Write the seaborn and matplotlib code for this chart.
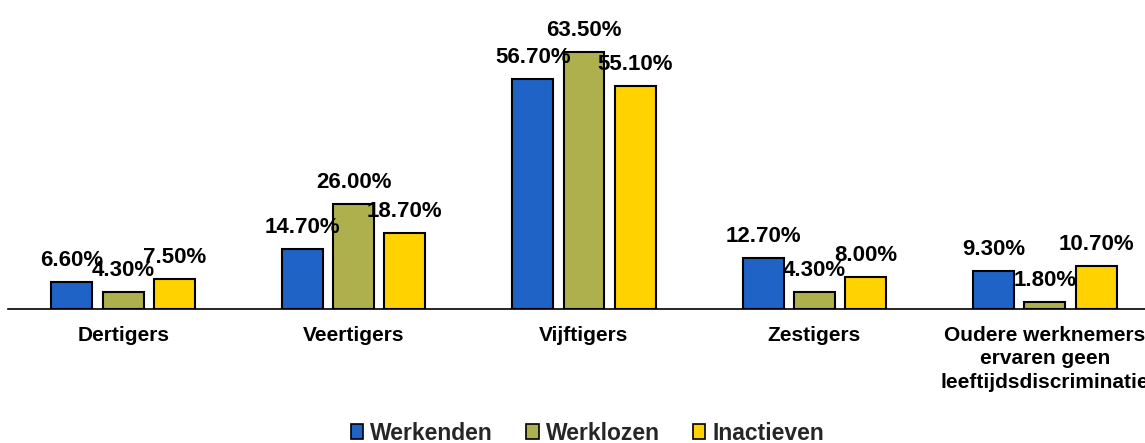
import matplotlib
matplotlib.use("Agg")
import matplotlib.pyplot as plt
import seaborn as sns
import pandas as pd
from matplotlib.patches import Patch

categories = ["Dertigers", "Veertigers", "Vijftigers", "Zestigers",
              "Oudere werknemers\nervaren geen\nleeftijdsdiscriminatie"]
series = ["Werkenden", "Werklozen", "Inactieven"]
werkenden = [6.6, 14.7, 56.7, 12.7, 9.3]
werklozen = [4.3, 26.0, 63.5, 4.3, 1.8]
inactieven = [7.5, 18.7, 55.1, 8.0, 10.7]
colors = ["#1F63C6", "#AEB04D", "#FFD200"]

values = {"Werkenden": werkenden, "Werklozen": werklozen, "Inactieven": inactieven}
df = pd.DataFrame([
    {"categorie": c, "groep": s, "waarde": v}
    for s in series for c, v in zip(categories, values[s])
])

sns.set_theme(style="white")
plt.rcParams["font.family"] = ["Liberation Sans", "DejaVu Sans"]
plt.rcParams["font.weight"] = "bold"

fig = plt.figure(figsize=(11.45, 4.43), dpi=100)
ax = fig.add_axes([8 / 1145, 134 / 443, 1152 / 1145, 283.5 / 443])

sns.barplot(data=df, x="categorie", y="waarde", hue="groep",
            order=categories, hue_order=series, palette=colors,
            width=0.667, gap=0.2, edgecolor="black", linewidth=1.5,
            saturation=1, legend=False, ax=ax)

ax.set_xlim(-0.5, 4.5)
ax.set_ylim(0, 70)

for container, s in zip(ax.containers, series):
    for bar, v in zip(container, values[s]):
        ax.annotate(f"{v:.2f}%", (bar.get_x() + bar.get_width() / 2, v),
                    xytext=(0, 11.5), textcoords="offset points",
                    ha="center", va="baseline", fontsize=16,
                    fontweight="bold", color="black")

for side in ["top", "right", "left"]:
    ax.spines[side].set_visible(False)
ax.spines["bottom"].set_color("black")
ax.spines["bottom"].set_linewidth(1.2)
ax.set_yticks([])
ax.set_xlabel("")
ax.set_ylabel("")
ax.tick_params(axis="x", length=0, pad=12, labelsize=15, colors="black")
for lbl in ax.get_xticklabels():
    lbl.set_fontweight("bold")
    lbl.set_linespacing(1.3)

handles = [Patch(facecolor=c, edgecolor="black", linewidth=1.2, label=s)
           for c, s in zip(colors, series)]
fig.legend(handles=handles, loc="center", bbox_to_anchor=(0.513, 0.022),
           ncol=3, frameon=False, handlelength=0.55,
           handleheight=0.6, handletextpad=0.3, columnspacing=1.45,
           prop={"weight": "bold", "size": 16.5})

fig.savefig("out.png", dpi=100)
